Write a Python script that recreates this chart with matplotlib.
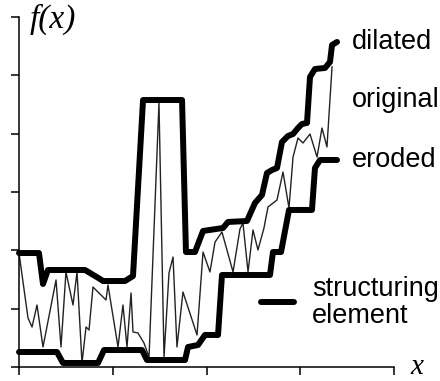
import numpy as np
import matplotlib.pyplot as plt

# original signal f(x) (x in tick units, y in tick units)
orig_x = [0.000, 0.096, 0.139, 0.192, 0.256, 0.395, 0.448, 0.501, 0.576, 0.619,
          0.672, 0.715, 0.747, 0.789, 0.928, 0.949, 1.056, 1.109, 1.152, 1.195,
          1.216, 1.269, 1.333, 1.387, 1.493, 1.547, 1.600, 1.643, 1.685, 1.749,
          1.899, 1.963, 2.037, 2.091, 2.165, 2.283, 2.357, 2.389, 2.443, 2.496,
          2.549, 2.613, 2.656, 2.752, 2.816, 2.880, 2.923, 2.976, 3.029, 3.104,
          3.179, 3.232, 3.285, 3.339]
orig_y = [1.954, 0.840, 0.686, 1.063, 0.343, 1.492, 0.343, 1.629, 1.063, 1.629,
          0.069, 0.686, 0.634, 1.371, 1.149, 1.406, 0.343, 1.063, 0.343, 1.269,
          0.600, 0.583, 0.411, 0.171, 4.526, 0.171, 1.611, 1.886, 0.343, 1.286,
          0.549, 1.971, 1.629, 2.143, 2.314, 1.629, 2.366, 2.469, 1.629, 2.349,
          2.006, 2.383, 2.743, 2.863, 3.343, 2.726, 3.600, 3.926, 3.840, 3.994,
          3.600, 4.097, 3.772, 5.143]

# dilated curve (upper envelope)
dil_x = [0.000, 0.213, 0.256, 0.309, 0.704, 0.864, 0.896, 1.131, 1.216, 1.323,
         1.739, 1.781, 1.877, 1.963, 2.176, 2.229, 2.432, 2.517, 2.592, 2.645,
         2.699, 2.752, 2.805, 2.869, 2.923, 2.976, 3.019, 3.072, 3.104, 3.157,
         3.264, 3.317, 3.339, 3.392]
dil_y = [1.954, 1.954, 1.423, 1.663, 1.663, 1.509, 1.474, 1.474, 1.560, 4.577,
         4.577, 1.971, 1.971, 2.332, 2.383, 2.486, 2.503, 2.812, 2.949, 3.326,
         3.377, 3.412, 3.857, 3.960, 3.994, 4.097, 4.166, 4.183, 4.972, 5.109,
         5.126, 5.229, 5.520, 5.572]

# eroded curve (lower envelope)
ero_x = [0.000, 0.405, 0.469, 0.843, 0.907, 1.312, 1.365, 1.771, 1.803, 1.909,
         1.984, 2.123, 2.165, 2.677, 2.709, 2.795, 2.880, 3.125, 3.157, 3.211,
         3.392]
ero_y = [0.257, 0.257, 0.069, 0.069, 0.291, 0.291, 0.120, 0.120, 0.343, 0.377,
         0.549, 0.549, 1.577, 1.577, 1.971, 1.971, 2.692, 2.692, 3.412, 3.549,
         3.549]

# structuring element (flat segment)
se_x = [2.58, 2.93]
se_y = [1.11, 1.11]

curve_labels = ["dilated", "original", "eroded"]
label_y = [5.572, 4.577, 3.549]


fig = plt.figure(figsize=(4.4, 3.81), dpi=100)
ax = fig.add_axes([19 / 440, 14 / 381, 375 / 440, 350 / 381])

thick = dict(color="black", lw=4.3, solid_capstyle="round",
             solid_joinstyle="round", clip_on=False)
ax.plot(orig_x, orig_y, color="#222222", lw=1.0, clip_on=False)
ax.plot(dil_x, dil_y, **thick)
ax.plot(ero_x, ero_y, **thick)
ax.plot(se_x, se_y, **thick)

ax.set_xlim(0, 4)
ax.set_ylim(0, 6)
ax.set_xticks(range(5))
ax.set_yticks(range(7))
ax.tick_params(direction="out", length=6, width=1.1,
               labelbottom=False, labelleft=False)
for side in ["top", "right"]:
    ax.spines[side].set_visible(False)
for side in ["left", "bottom"]:
    ax.spines[side].set_linewidth(1.1)

for lab, y in zip(curve_labels, label_y):
    ax.text(3.55, y, lab, fontsize=19.5, family="Liberation Sans",
            ha="left", va="center")
ax.text(3.125, 1.11, "structuring\nelement", fontsize=19.5,
        family="Liberation Sans", ha="left", va="center", linespacing=1.05)

ax.text(0.117, 5.81, "f(x)", fontsize=24, family="Liberation Serif",
        style="italic", ha="left", va="baseline")
ax.text(4.17, -0.12, "x", fontsize=21, family="Liberation Serif",
        style="italic", ha="left", va="baseline")

fig.savefig("out.png", dpi=100)
